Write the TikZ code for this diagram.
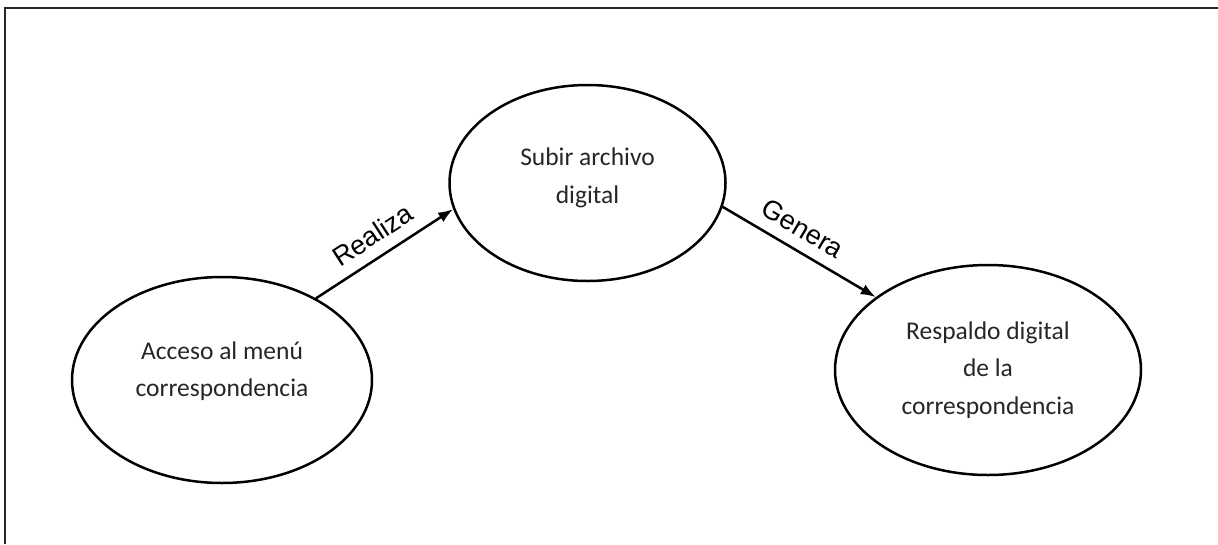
\documentclass[tikz,border=0pt]{standalone}
\usepackage{fontspec}
\setmainfont{Carlito}
\newfontfamily\labelfont{Liberation Sans}
\usetikzlibrary{shapes.geometric,arrows.meta}
\begin{document}
\begin{tikzpicture}[x=1pt,y=-1pt,
  stateshape/.style={draw=black, line width=2.5pt, ellipse, inner sep=0pt},
  statetext/.style={align=center, font=\fontsize{25.5}{37.5}\selectfont, text=black!85},
  flow/.style={draw=black, line width=2.5pt, -{Latex[length=15pt,width=11pt]}},
  flowlabel/.style={font=\labelfont\fontsize{27}{30}\selectfont, sloped, inner sep=0pt, above=11pt}
]
  % page frame
  \useasboundingbox (0,0) rectangle (1218,544);
  \draw[line width=2pt, black!85] (4.5,544) -- (4.5,7.5) -- (1218,7.5);

  % states
  \node[stateshape, minimum width=300pt, minimum height=206pt] (acc) at (222,380) {};
  \node[stateshape, minimum width=276pt, minimum height=196pt] (sub) at (587.5,183) {};
  \node[stateshape, minimum width=306pt, minimum height=210pt] (res) at (988,370) {};

  \node[statetext] (acctext) at (222,371) {Acceso al menú\\correspondencia};
  \node[statetext] (subtext) at (587.5,178) {Subir archivo\\digital};
  \node[statetext] (restext) at (988,370) {Respaldo digital\\de la\\correspondencia};

  % transitions
  \draw[flow] (acc.41.8) -- node[flowlabel, pos=0.5] {Realiza} (sub.191.8);
  \draw[flow] (sub.350) -- node[flowlabel, pos=0.45] {Genera} (res.147.6);
\end{tikzpicture}
\end{document}
